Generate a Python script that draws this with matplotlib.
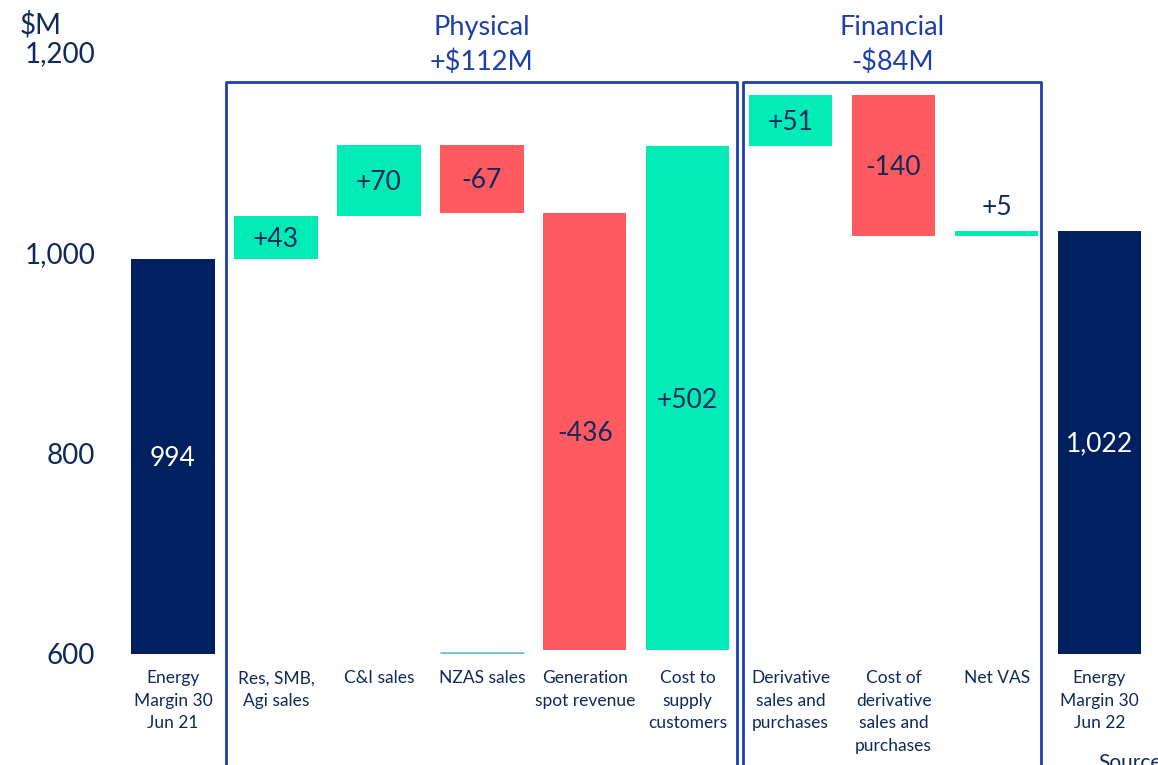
import matplotlib.pyplot as plt
import numpy as np
from matplotlib.transforms import blended_transform_factory

# Data
categories = ["Energy\nMargin 30\nJun 21", "Res, SMB,\nAgi sales", "C&I sales", "NZAS sales",
              "Generation\nspot revenue", "Cost to\nsupply\ncustomers", "Derivative\nsales and\npurchases",
              "Cost of\nderivative\nsales and\npurchases", "Net VAS", "Energy\nMargin 30\nJun 22"]
start_value = 994
changes = [43, 70, -67, -436, 502, 51, -140, 5]
end_value = 1022
value_labels = ["994", "+43", "+70", "-67", "-436", "+502", "+51", "-140", "+5", "1,022"]
group_titles = ["Physical\n+$112M", "Financial\n-$84M"]
group_spans = [(1, 5), (6, 8)]
yticks = [600, 800, 1000, 1200]
ytick_labels = ["600", "800", "1,000", "1,200"]

navy = "#002060"
green = "#00EBB6"
red = "#FF5A5F"
text_col = "#0E2A5C"
blue = "#1C3FAA"

plt.rcParams['font.family'] = ['Lato', 'DejaVu Sans']

fig = plt.figure(figsize=(11.58, 7.65), dpi=100)
ax = fig.add_axes([121.5 / 1158, (765 - 654) / 765, (1151 - 121.5) / 1158, (654 - 52) / 765])

# waterfall
n = len(categories)
x = np.arange(n)
bottoms, heights, colors = [600], [start_value - 600], [navy]
level = start_value
for c in changes:
    if c >= 0:
        bottoms.append(level)
        colors.append(green)
    else:
        bottoms.append(level + c)
        colors.append(red)
    heights.append(abs(c))
    level += c
bottoms.append(600)
heights.append(end_value - 600)
colors.append(navy)

width = 0.81
ax.bar(x, heights, bottom=bottoms, width=width, color=colors, zorder=3)

# thin line under NZAS column
ax.hlines(601, x[3] - width / 2, x[3] + width / 2, color="#6EC6CA", lw=2, zorder=3)

for i in range(n):
    b, h = bottoms[i], heights[i]
    tc = "white" if colors[i] == navy else text_col
    if h < 20:
        ax.text(x[i], b + h + 11, value_labels[i], ha="center", va="bottom", fontsize=19, color=text_col)
    else:
        ax.text(x[i], b + h / 2 - 2, value_labels[i], ha="center", va="center", fontsize=19, color=tc)

trans = blended_transform_factory(ax.transData, ax.transAxes)
for i, cat in enumerate(categories):
    ax.text(x[i], -0.027, cat, transform=trans, ha="center", va="top", fontsize=12.5,
            color=text_col, linespacing=1.5)

# group boxes
box_top = (1170 - 600) / 600
pads = [(0.485, 0.48), (0.46, 0.435)]
for title, (s, e), (pl, pr) in zip(group_titles, group_spans, pads):
    left, right = s - pl, e + pr
    ax.plot([left, left, right, right], [-0.3, box_top, box_top, -0.3], transform=trans,
            color=blue, lw=2, clip_on=False, zorder=2)
    ax.text((left + right) / 2, 1.012, title, transform=trans, ha="center", va="center",
            fontsize=19.5, color=blue, linespacing=1.45)

ax.set_xlim(-0.5, n - 0.5)
ax.set_ylim(600, 1200)
ax.set_yticks(yticks)
ax.set_yticklabels(ytick_labels, fontsize=20, color=text_col)
ax.tick_params(axis="y", length=0, pad=19)
ax.set_xticks([])
for sp in ax.spines.values():
    sp.set_visible(False)

fig.text(20 / 1158, (765 - 25) / 765, "$M", fontsize=20, color=text_col, va="center", ha="left")
fig.text(1098 / 1158, -4 / 765, "Source", fontsize=15, color=text_col, va="baseline", ha="left")

fig.savefig("out.png", dpi=100)
